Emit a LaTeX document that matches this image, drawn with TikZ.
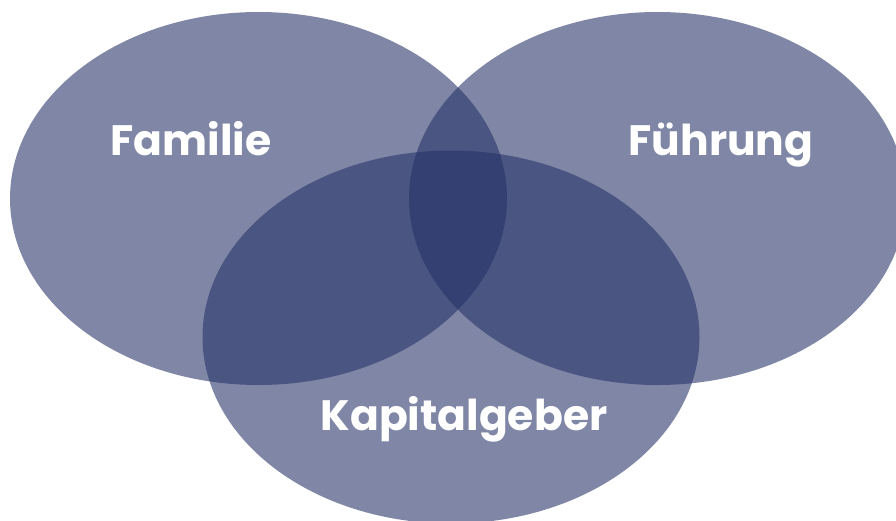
\documentclass[tikz,border=0pt]{standalone}
\usepackage{fontspec}
\setmainfont{Poppins}
\usetikzlibrary{shapes.geometric}
\definecolor{blobblue}{RGB}{37,50,103}
\tikzset{
  blob/.style={ellipse, fill=blobblue, fill opacity=0.586, draw=none,
    minimum width=497pt, minimum height=373pt, inner sep=0pt},
  lbl/.style={text=white, font=\fontsize{42.5}{46}\selectfont\bfseries, inner sep=0pt, anchor=base}
}
\begin{document}
\begin{tikzpicture}[x=1pt,y=-1pt]
\useasboundingbox (0,0) rectangle (896,520);
\clip (0,0) rectangle (896,520);
\node[blob] (fam) at (258.5,198.5) {};
\node[blob] (fue) at (657.5,198.5) {};
\node[blob] (kap) at (451,337) {};
\node[lbl] (tfam) at (191,155) {Familie};
\node[lbl] (tfue) at (721,155) {Führung};
\node[lbl] (tkap) at (464,430) {Kapitalgeber};
\end{tikzpicture}
\end{document}
